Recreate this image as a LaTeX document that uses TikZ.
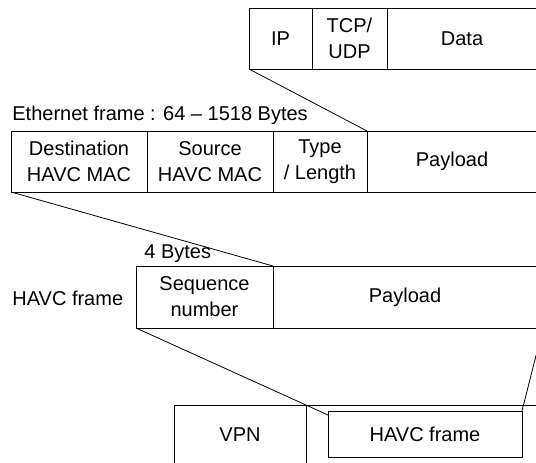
\documentclass[tikz,border=0pt]{standalone}
\usepackage{fontspec}
\setmainfont{Liberation Sans}
\usetikzlibrary{positioning}

\begin{document}
\begin{tikzpicture}[x=1pt, y=-1pt, line width=0.8pt,
		cell/.style={draw, rectangle, outer sep=0pt, inner sep=0pt, align=center,
			minimum height=61pt, font=\fontsize{20}{26}\selectfont},
		lbl/.style={inner sep=0pt, anchor=base west, font=\fontsize{20}{26}\selectfont}]
	\useasboundingbox (0,0) rectangle (536,463);
	\clip (0,0) rectangle (536,463);

	% IP packet
	\node[cell, minimum width=63pt, anchor=north west] (ip) at (249,8) {IP};
	\node[cell, minimum width=75pt]  (tcp)  [right=0pt of ip]  {TCP/\\UDP};
	\node[cell, minimum width=150pt] (data) [right=0pt of tcp] {Data};

	% Ethernet frame
	\node[lbl] (ethlbl) at (12,120) {Ethernet frame : 64 -- 1518 Bytes};
	\node[cell, minimum width=136pt, anchor=north west] (dst) at (11,131) {Destination\\HAVC MAC};
	\node[cell, minimum width=126pt] (src)    [right=0pt of dst]  {Source\\HAVC MAC};
	\node[cell, minimum width=94pt]  (type)   [right=0pt of src]  {Type\\/ Length};
	\node[cell, minimum width=170pt] (ethpay) [right=0pt of type] {Payload};

	% HAVC frame
	\node[lbl] (bytes)   at (144,258) {4 Bytes};
	\node[lbl] (havclbl) at (12,305)  {HAVC frame};
	\node[cell, minimum width=137pt, minimum height=62pt, anchor=north west] (seq) at (136,266) {Sequence\\number};
	\node[cell, minimum width=264pt, minimum height=62pt] (seqpay) [right=0pt of seq] {Payload};

	% VPN
	\node[cell, minimum width=132pt, minimum height=59pt, anchor=north west] (vpn) at (174,405) {VPN};
	\node[cell, minimum width=231pt, minimum height=59pt] (tunnel) [right=0pt of vpn] {};
	\node[cell, minimum width=194pt, minimum height=46pt, anchor=north west] (inner) at (328,411) {HAVC frame};

	\coordinate (seqend) at (543,328);
	\draw (ip.south west) -- (ethpay.north west)
		(dst.south west) -- (seqpay.north west)
		(seq.south west) -- ([yshift=-4pt]inner.north west)
		(seqend) -- (inner.north east);
\end{tikzpicture}
\end{document}
